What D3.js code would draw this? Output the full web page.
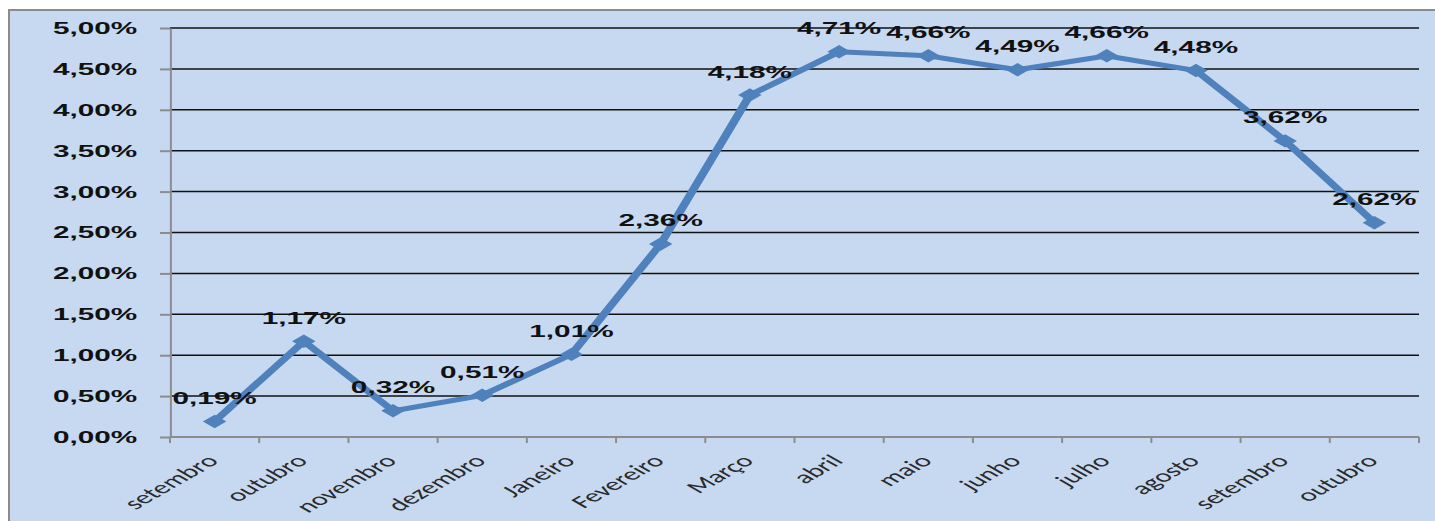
<!DOCTYPE html>
<html>
<head>
<meta charset="utf-8">
<script src="https://cdn.jsdelivr.net/npm/d3@7"></script>
<style>
  html, body { margin: 0; padding: 0; background: #fff; }
  svg { display: block; }
</style>
</head>
<body>
<div id="d3-container"></div>
<script>
// CONSTANTS AND GLOBALS
// the source picture is stretched sideways, so the chart is drawn narrow and scaled by SX
const SX = 1.75;
const width = 1435,
  height = 521,
  plotLeft = 170,
  plotRight = 1419,
  plotTop = 28,
  plotBottom = 437;

// DATA
const months = ["setembro", "outubro", "novembro", "dezembro", "Janeiro", "Fevereiro",
  "Março", "abril", "maio", "junho", "julho", "agosto", "setembro", "outubro"];
const values = [0.0019, 0.0117, 0.0032, 0.0051, 0.0101, 0.0236, 0.0418,
  0.0471, 0.0466, 0.0449, 0.0466, 0.0448, 0.0362, 0.0262];
const yTicks = [0, 0.005, 0.01, 0.015, 0.02, 0.025, 0.03, 0.035, 0.04, 0.045, 0.05];

const ptBR = d3.formatLocale({ decimal: ",", thousands: ".", grouping: [3], currency: ["R$", ""] });
const fmtPct = ptBR.format(".2%");

// SVG
const svg = d3.select("#d3-container")
  .append("svg")
  .attr("width", width)
  .attr("height", height);

// chart area background
svg.append("rect")
  .attr("x", 9)
  .attr("y", 10)
  .attr("width", width + 20)
  .attr("height", height + 20)
  .attr("fill", "#c6d9f1")
  .attr("stroke", "#8c8c8c")
  .attr("stroke-width", 2);

const g = svg.append("g").attr("transform", `scale(${SX},1)`);

// SCALES
const xScale = d3.scaleBand()
  .domain(d3.range(months.length))
  .range([plotLeft / SX, plotRight / SX]);

const yScale = d3.scaleLinear()
  .domain([0, 0.05])
  .range([plotBottom, plotTop]);

const x0 = xScale.range()[0],
  x1 = xScale.range()[1];

// GRIDLINES
g.append("g")
  .selectAll("line")
  .data(yTicks.filter(d => d > 0))
  .join("line")
  .attr("x1", x0)
  .attr("x2", x1)
  .attr("y1", d => yScale(d))
  .attr("y2", d => yScale(d))
  .attr("stroke", "#111")
  .attr("stroke-width", 1.5)
  .attr("vector-effect", "non-scaling-stroke");

// Y AXIS
const yAxis = d3.axisLeft(yScale)
  .tickValues(yTicks)
  .tickFormat(fmtPct)
  .tickSize(10 / SX)
  .tickSizeOuter(0)
  .tickPadding(13);

const yAxisG = g.append("g")
  .attr("transform", `translate(${x0},0)`)
  .call(yAxis);

yAxisG.selectAll("path, line")
  .attr("stroke", "#8c8c8c")
  .attr("stroke-width", 2)
  .attr("vector-effect", "non-scaling-stroke");

yAxisG.selectAll("text")
  .attr("font-family", "'Liberation Sans', Arial, sans-serif")
  .attr("font-weight", "bold")
  .attr("font-size", 17)
  .attr("fill", "#111");

// X AXIS
g.append("line")
  .attr("x1", x0)
  .attr("x2", x1)
  .attr("y1", plotBottom)
  .attr("y2", plotBottom)
  .attr("stroke", "#8c8c8c")
  .attr("stroke-width", 2)
  .attr("vector-effect", "non-scaling-stroke");

g.append("g")
  .selectAll("line")
  .data(d3.range(months.length + 1))
  .join("line")
  .attr("x1", i => x0 + i * xScale.step())
  .attr("x2", i => x0 + i * xScale.step())
  .attr("y1", plotBottom)
  .attr("y2", plotBottom + 6)
  .attr("stroke", "#8c8c8c")
  .attr("stroke-width", 2)
  .attr("vector-effect", "non-scaling-stroke");

g.append("g")
  .selectAll("text")
  .data(months)
  .join("text")
  .attr("transform", (d, i) =>
    `translate(${xScale(i) + xScale.bandwidth() / 2 + 3},${plotBottom + 25}) rotate(-45)`)
  .attr("text-anchor", "end")
  .attr("font-family", "Carlito, Lato, 'Open Sans', sans-serif")
  .attr("font-size", 17.5)
  .attr("fill", "#2a2a2a")
  .text(d => d);

// LINE + MARKERS
const cx = i => xScale(i) + xScale.bandwidth() / 2;

const line = d3.line()
  .x((d, i) => cx(i))
  .y(d => yScale(d));

g.append("path")
  .datum(values)
  .attr("d", line)
  .attr("fill", "none")
  .attr("stroke", "#4f81bd")
  .attr("stroke-width", 5)
  .attr("stroke-linejoin", "round");

const diamond = d3.symbol().type(d3.symbolSquare).size(90);

g.append("g")
  .selectAll("path")
  .data(values)
  .join("path")
  .attr("d", diamond)
  .attr("transform", (d, i) => `translate(${cx(i)},${yScale(d)}) rotate(45)`)
  .attr("fill", "#4f81bd");

// DATA LABELS
g.append("g")
  .selectAll("text")
  .data(values)
  .join("text")
  .attr("x", (d, i) => cx(i))
  .attr("y", d => yScale(d) - 17.5)
  .attr("text-anchor", "middle")
  .attr("font-family", "'Liberation Sans', Arial, sans-serif")
  .attr("font-weight", "bold")
  .attr("font-size", 17)
  .attr("fill", "#111")
  .text(d => fmtPct(d));
</script>
</body>
</html>
